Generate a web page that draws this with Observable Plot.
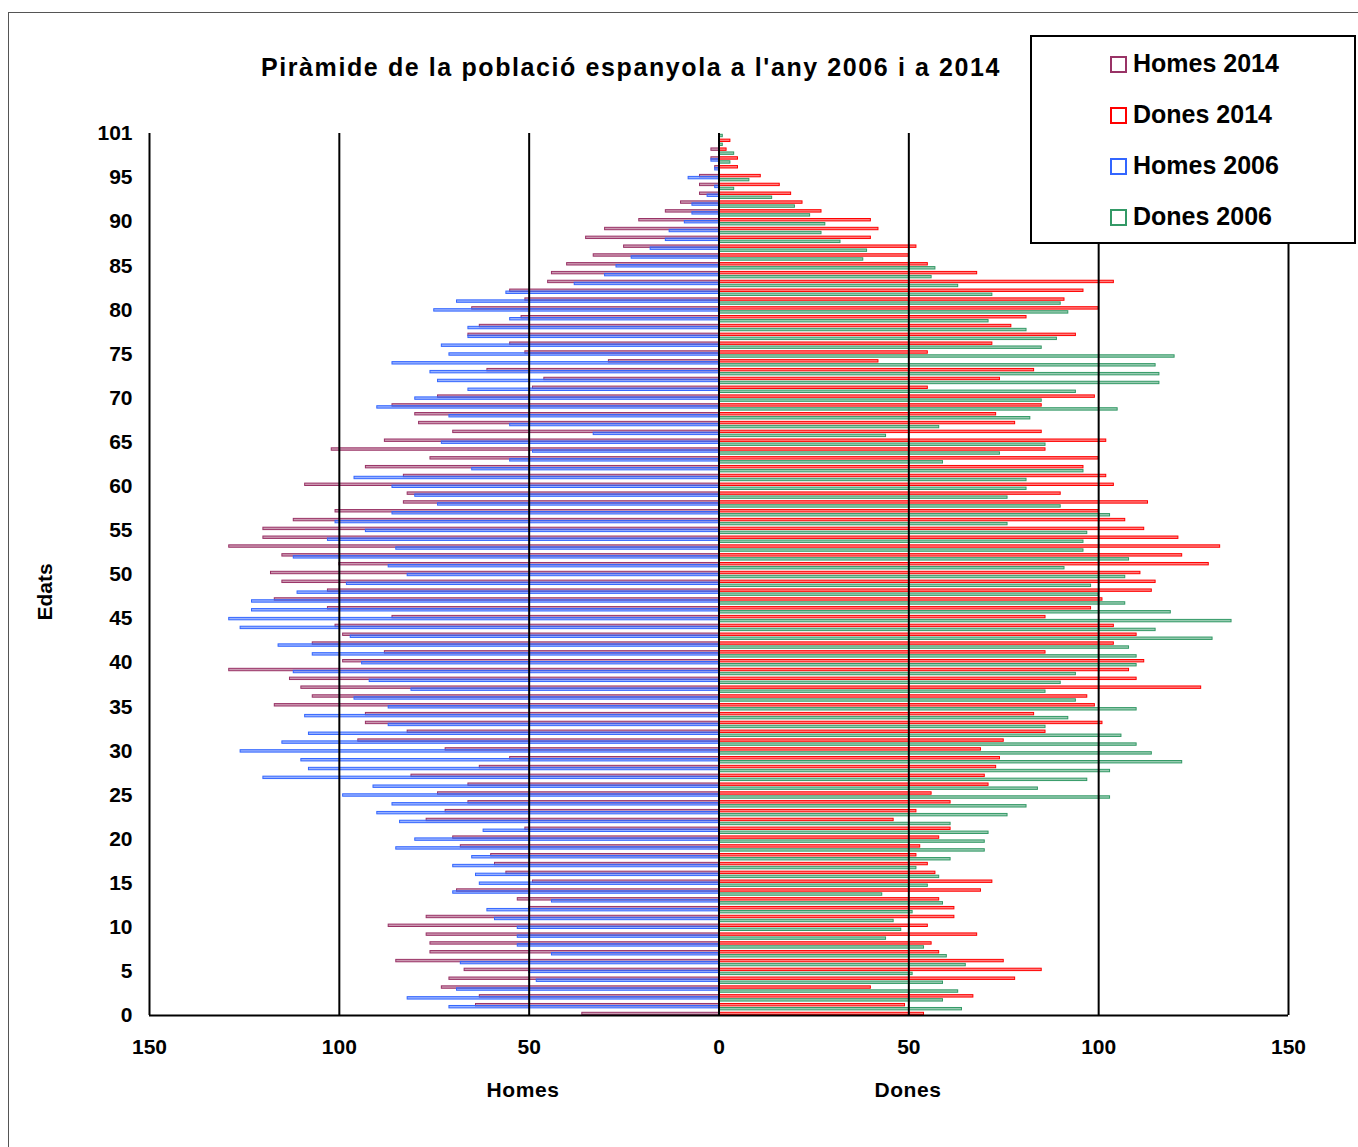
<!DOCTYPE html>
<html>
<head>
<meta charset="utf-8">
<script src="https://cdn.jsdelivr.net/npm/d3@7"></script>
<script src="https://cdn.jsdelivr.net/npm/@observablehq/plot@0.6"></script>
<style>
  body { margin: 0; background: #fff; font-family: "Liberation Sans", Arial, sans-serif; }
  #wrap { position: relative; width: 1358px; height: 1147px; overflow: hidden; background: #fff; }
  #frame { position: absolute; left: 8px; top: 12px; width: 1400px; height: 1200px; border: 1px solid #555; box-sizing: border-box; }
  #chart { position: absolute; left: 0; top: 0; }
  .lbl { position: absolute; font-weight: bold; color: #000; white-space: nowrap; }
  #title { left: 0; width: 1262px; top: 52px; text-align: center; font-size: 25px; line-height: 30px; letter-spacing: 1.6px; }
  #legend { position: absolute; left: 1030px; top: 35px; width: 326px; height: 209px; border: 2px solid #000; box-sizing: border-box; background: #fff; }
  .item { position: absolute; left: 78px; font-weight: bold; font-size: 25px; line-height: 30px; white-space: nowrap; }
  .sw { display: inline-block; width: 17px; height: 17px; border: 2px solid; box-sizing: border-box; margin-right: 6px; vertical-align: -1px; background: #fff; }
  #homesT { left: 443px; width: 160px; text-align: center; top: 1078px; font-size: 21px; letter-spacing: 0.6px; }
  #donesT { left: 828px; width: 160px; text-align: center; top: 1078px; font-size: 21px; letter-spacing: 0.6px; }
  #edats { left: 45px; top: 592px; font-size: 21px; transform: translate(-50%, -50%) rotate(-90deg); }
</style>
</head>
<body>
<div id="wrap">
  <div id="frame"></div>
  <div id="chart"></div>
  <div id="title" class="lbl"></div>
  <div id="homesT" class="lbl"></div>
  <div id="donesT" class="lbl"></div>
  <div id="edats" class="lbl"></div>
  <div id="legend"></div>
</div>
<script>
// ---------- Data (index = age category, 0..100) ----------
const titleText = "Piràmide de la població espanyola a l'any 2006 i a 2014";
const seriesNames = ["Homes 2014", "Dones 2014", "Homes 2006", "Dones 2006"];
const seriesColors = ["#993366", "#FF0000", "#3366FF", "#339966"];
const xTitles = ["Homes", "Dones"];
const yTitle = "Edats";
const xTicks = [-150, -100, -50, 0, 50, 100, 150];
const gridValues = [-100, -50, 0, 50, 100, 150];
const ageTicks = [0, 5, 10, 15, 20, 25, 30, 35, 40, 45, 50, 55, 60, 65, 70, 75, 80, 85, 90, 95, 100];
const ageTickLabels = ["0", "5", "10", "15", "20", "25", "30", "35", "40", "45", "50", "55", "60", "65", "70", "75", "80", "85", "90", "95", "101"];

const homes2014 = [36,64,63,73,71,67,85,76,76,77, 87,77,50,53,69,49,56,59,60,68,
  70,51,77,72,66,74,66,81,63,55, 72,95,82,93,93,117,107,110,113,129,
  99,88,107,99,101,86,103,117,103,115, 118,100,115,129,120,120,112,101,83,82,
  109,83,93,76,102,88,70,79,80,86, 74,49,46,61,29,51,55,66,63,52,
  65,51,55,45,44,40,33,25,35,30, 21,14,10,5,5,5,1,2,2,0, 0];
const dones2014 = [54,49,67,40,78,85,75,58,56,68, 55,62,62,58,69,72,57,55,52,53,
  58,61,46,52,61,56,71,70,73,74, 69,75,86,101,83,99,97,127,110,108,
  112,86,104,110,104,86,98,101,114,115, 111,129,122,132,121,112,107,100,113,90,
  104,102,96,100,86,102,85,78,73,85, 99,55,74,83,42,55,72,94,77,81,
  100,91,96,104,68,55,50,52,40,42, 40,27,22,19,16,11,5,5,2,3, 0];
const homes2006 = [null,71,82,69,48,50,68,44,53,53, 53,59,61,44,70,63,64,70,65,85,
  80,62,84,90,86,99,91,120,108,110, 126,115,108,87,109,87,96,81,92,112,
  94,107,116,97,126,129,123,123,111,98, 82,87,112,85,103,93,101,86,74,80,
  86,96,65,55,49,73,33,55,71,90, 80,66,74,76,86,71,73,66,66,55,
  75,69,56,38,30,27,23,18,14,13, 9,7,7,3,1,8,1,2,0,0, 0];
const dones2006 = [null,64,59,63,59,51,65,60,54,44, 48,46,51,59,43,55,58,52,61,70,
  70,71,61,76,81,103,84,97,103,122, 114,110,106,86,92,110,94,86,90,94,
  110,110,108,130,115,135,119,107,100,98, 107,91,108,96,96,97,76,103,90,76,
  81,81,96,59,74,86,44,58,82,105, 85,94,116,116,115,120,85,89,81,71,
  92,90,72,63,56,57,38,39,32,27, 28,24,20,14,4,8,0,3,4,1, 1];

// ---------- Build table ----------
const valueArrays = [homes2014, dones2014, homes2006, dones2006];
const sign = [-1, 1, -1, 1];
const pxPerAge = 882 / 100;               // vertical pixels per age category
const slotPx = [1.5, 1.5, -0.5, -2.5];    // bar centre offset (px, up positive)
const barPx = 2.4;                        // bar inner height in px
const rows = [];
valueArrays.forEach((arr, s) => {
  arr.forEach((v, age) => {
    if (v == null || v === 0) return;
    const c = age + slotPx[s] / pxPerAge;
    const h = barPx / 2 / pxPerAge;
    rows.push({ series: seriesNames[s], age, value: sign[s] * v, y1: c - h, y2: c + h });
  });
});

const colorOf = Object.fromEntries(seriesNames.map((n, i) => [n, seriesColors[i]]));

const chart = Plot.plot({
  width: 1358,
  height: 1147,
  marginLeft: 149,
  marginRight: 70,
  marginTop: 133,
  marginBottom: 132,
  style: { fontFamily: "'Liberation Sans', Arial, sans-serif", fontSize: "21px", fontWeight: "bold", color: "#000", background: "transparent" },
  x: { domain: [-150, 150] },
  y: { domain: [0, 100] },
  marks: [
    Plot.rectX(rows, {
      x1: 0, x2: "value", y1: "y1", y2: "y2",
      fill: d => colorOf[d.series], fillOpacity: 0.5,
      stroke: d => colorOf[d.series], strokeWidth: 1
    }),
    Plot.ruleX(gridValues, { y1: 0, y2: 100, stroke: "#000", strokeWidth: 2 }),
    Plot.ruleX([-150], { y1: 0, y2: 100, stroke: "#000", strokeWidth: 2 }),
    Plot.ruleY([0], { x1: -150, x2: 150, stroke: "#000", strokeWidth: 2 }),
    Plot.axisX({ ticks: xTicks, tickFormat: d => String(Math.abs(d)), tickSize: 0, tickPadding: 24, label: null, fontSize: 21, fontWeight: "bold" }),
    Plot.axisY({ ticks: ageTicks, tickFormat: d => ageTickLabels[ageTicks.indexOf(d)], tickSize: 0, tickPadding: 17, label: null, fontSize: 21, fontWeight: "bold" })
  ]
});
chart.querySelectorAll("text").forEach(t => t.setAttribute("fill", "#000"));
document.getElementById("chart").appendChild(chart);

document.getElementById("title").textContent = titleText;
document.getElementById("homesT").textContent = xTitles[0];
document.getElementById("donesT").textContent = xTitles[1];
document.getElementById("edats").textContent = yTitle;

const legend = document.getElementById("legend");
seriesNames.forEach((n, i) => {
  const it = document.createElement("div");
  it.className = "item";
  it.style.top = (11 + i * 51) + "px";
  const sw = document.createElement("span");
  sw.className = "sw";
  sw.style.borderColor = seriesColors[i];
  it.appendChild(sw);
  it.appendChild(document.createTextNode(n));
  legend.appendChild(it);
});
</script>
</body>
</html>
